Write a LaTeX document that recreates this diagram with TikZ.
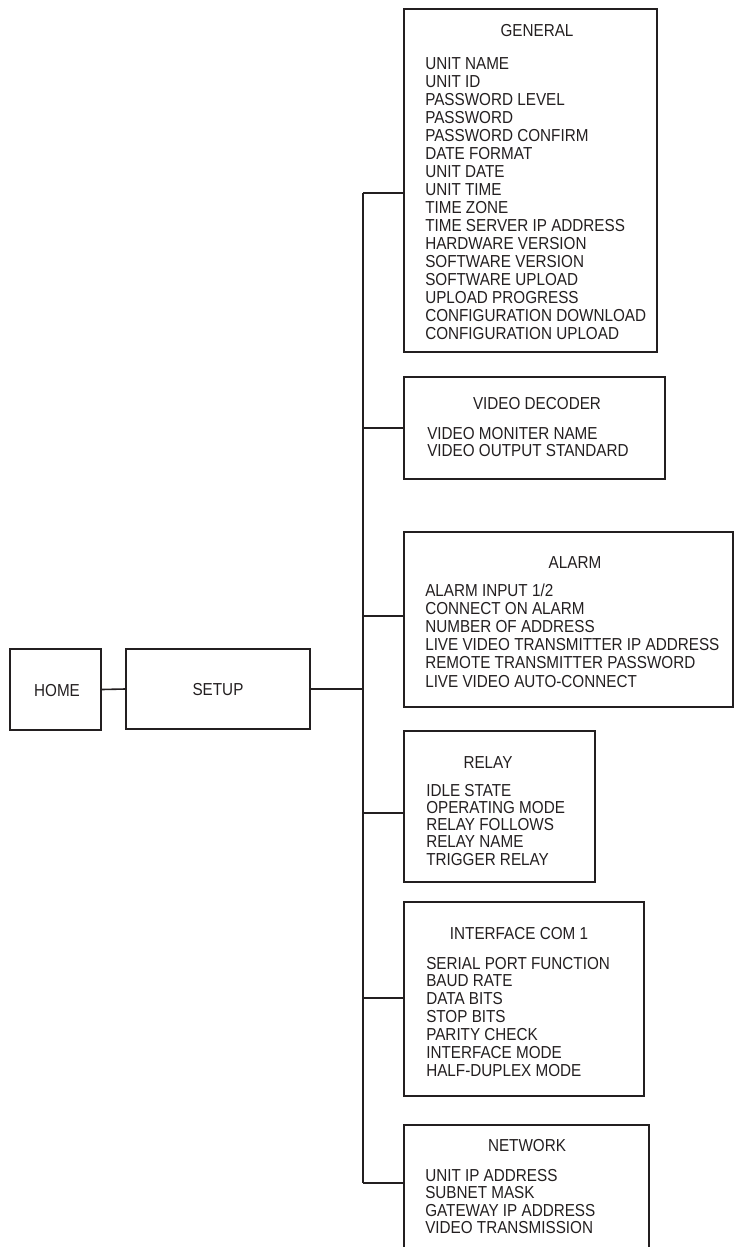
\documentclass[tikz,border=0pt]{standalone}
\usepackage{fontspec}
\setmainfont{Liberation Sans}[FakeStretch=0.88]
\usetikzlibrary{fit}
\definecolor{ink}{HTML}{231F20}
\tikzset{
  box/.style={draw=ink, line width=1.2pt, inner sep=0pt, rectangle},
  conn/.style={draw=ink, line width=1.2pt},
  item/.style={anchor=base west, inner sep=0pt, text=ink, font=\fontsize{13}{15}\selectfont},
  ttl/.style={anchor=base, inner sep=0pt, text=ink, font=\fontsize{13}{15}\selectfont}
}
\begin{document}
\begin{tikzpicture}[x=0.75pt, y=-0.75pt]
\useasboundingbox (0,0) rectangle (735,1247);

% left boxes
\node[box, fit={(10,649) (101,730)}] (home) {};
\node[box, fit={(126,649) (310,729)}] (setup) {};
\node[ttl] (homet) at (57,696) {HOME};
\node[ttl] (setupt) at (218,695) {SETUP};

% right boxes
\node[box, fit={(404,9) (657,352)}] (gen) {};
\node[box, fit={(404,377) (665,479)}] (vd) {};
\node[box, fit={(404,532) (733,707)}] (alarm) {};
\node[box, fit={(404,731) (595,882)}] (relay) {};
\node[box, fit={(404,902) (644,1096)}] (iface) {};
\node[box, fit={(404,1125) (649,1265)}] (net) {};

% GENERAL
\node[ttl] (gent) at (537,36) {GENERAL};
\foreach \t [count=\i] in {UNIT NAME, UNIT ID, PASSWORD LEVEL, PASSWORD, PASSWORD CONFIRM, DATE FORMAT, UNIT DATE, UNIT TIME, TIME ZONE, TIME SERVER IP ADDRESS, HARDWARE VERSION, SOFTWARE VERSION, SOFTWARE UPLOAD, UPLOAD PROGRESS, CONFIGURATION DOWNLOAD, CONFIGURATION UPLOAD}
  \node[item] (g\i) at (425,{69+18*(\i-1)}) {\t};

% VIDEO DECODER
\node[ttl] (vdt) at (537,409) {VIDEO DECODER};
\foreach \t [count=\i] in {VIDEO MONITER NAME, VIDEO OUTPUT STANDARD}
  \node[item] (v\i) at (427,{439+17*(\i-1)}) {\t};

% ALARM
\node[ttl] (alarmt) at (575,568) {ALARM};
\foreach \t [count=\i] in {ALARM INPUT 1/2, CONNECT ON ALARM, NUMBER OF ADDRESS, LIVE VIDEO TRANSMITTER IP ADDRESS, REMOTE TRANSMITTER PASSWORD, LIVE VIDEO AUTO-CONNECT}
  \node[item] (a\i) at (425,{596+18.2*(\i-1)}) {\t};

% RELAY
\node[ttl] (relayt) at (488,768) {RELAY};
\foreach \t [count=\i] in {IDLE STATE, OPERATING MODE, RELAY FOLLOWS, RELAY NAME, TRIGGER RELAY}
  \node[item] (r\i) at (426,{796+17.3*(\i-1)}) {\t};

% INTERFACE COM 1
\node[ttl] (ifacet) at (519,939) {INTERFACE COM 1};
\foreach \t [count=\i] in {SERIAL PORT FUNCTION, BAUD RATE, DATA BITS, STOP BITS, PARITY CHECK, INTERFACE MODE, HALF-DUPLEX MODE}
  \node[item] (c\i) at (426,{969+17.9*(\i-1)}) {\t};

% NETWORK
\node[ttl] (nett) at (527,1151) {NETWORK};
\foreach \t [count=\i] in {UNIT IP ADDRESS, SUBNET MASK, GATEWAY IP ADDRESS, VIDEO TRANSMISSION}
  \node[item] (n\i) at (425,{1181+17.5*(\i-1)}) {\t};

% trunk and branches
\coordinate (b1) at (363,193);
\coordinate (b2) at (363,428);
\coordinate (b3) at (363,616);
\coordinate (b4) at (363,813);
\coordinate (b5) at (363,998);
\coordinate (b6) at (363,1183);

\draw[conn] (home.east) -- (setup.west);
\draw[conn] (setup.east) -- (setup.east -| b1);
\draw[conn] (b1) -- (b6);
\draw[conn] (b1) -- (gen.west |- b1);
\draw[conn] (b2) -- (vd.west |- b2);
\draw[conn] (b3) -- (alarm.west |- b3);
\draw[conn] (b4) -- (relay.west |- b4);
\draw[conn] (b5) -- (iface.west |- b5);
\draw[conn] (b6) -- (net.west |- b6);
\end{tikzpicture}
\end{document}
